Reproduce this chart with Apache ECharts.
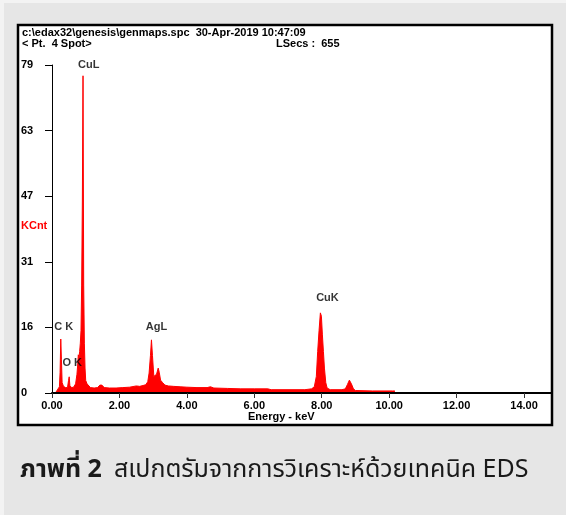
<!DOCTYPE html>
<html><head><meta charset="utf-8">
<script src="https://cdn.jsdelivr.net/npm/echarts@6/dist/echarts.min.js"></script>
<style>html,body{margin:0;padding:0;background:#f3f3f3;} #c{width:566px;height:515px;}</style>
</head><body><div id="c"></div>
<script>
// Spectrum: energy (keV) and counts (KCnt)
const energyKeV = [0.00,0.10,0.14,0.18,0.22,0.24,0.26,0.28,0.30,0.34,0.40,0.46,0.49,0.51,0.53,0.58,0.64,0.70,0.74,0.76,0.78,0.80,0.82,0.84,0.86,0.88,0.90,0.92,0.94,0.96,0.98,1.00,1.04,1.08,1.14,1.25,1.35,1.42,1.48,1.55,1.70,1.90,2.10,2.30,2.50,2.60,2.70,2.78,2.84,2.88,2.92,2.95,2.98,3.02,3.06,3.10,3.15,3.18,3.22,3.28,3.35,3.45,3.60,3.80,4.00,4.30,4.60,4.70,4.80,5.20,5.60,6.00,6.40,6.50,7.00,7.50,7.70,7.78,7.84,7.88,7.92,7.96,7.99,8.02,8.05,8.08,8.12,8.16,8.25,8.60,8.70,8.76,8.82,8.88,8.94,9.00,9.50,10.10,10.17];
const countsK   = [0,   0,   0.5, 0.9, 1.5, 5,   13.0,8,   2.5, 1.6, 1.3, 1.3, 3,   3.9, 1.8, 1.3, 1.4, 2.2, 4.5, 6.5, 9.2, 8.5, 10,  12,  15,  26,  46,  76.4,26,  12,  6,   3,   2.2, 1.8, 1.3, 1.2, 1.3, 1.9, 1.9, 1.3, 1.2, 1.2, 1.3, 1.4, 1.7, 1.6, 1.8, 2.0, 2.7, 4.8, 9,   12.8,9,   4,   3.8, 4.5, 6,   5,   3.1, 2.5, 1.9, 1.7, 1.6, 1.5, 1.4, 1.3, 1.3, 1.5, 1.2, 1.1, 1.0, 1.0, 1.0, 0.8, 0.8, 0.8, 1.0, 1.5, 4,   10,  15,  19.3,18.5,14,  10,  6,   2.5, 1.2, 0.8, 0.8, 1.0, 2,   3.1, 2.2, 1.0, 0.6, 0.5, 0.5, 0.5];

const xTickValues = [0,2,4,6,8,10,12,14];
const yTickValues = [0,15.8,31.6,47.4,63.2,79];
const yTickLabels = ['0','16','31','47','63','79'];

const peakNames = ['CuL','C K','O K','AgL','CuK'];
const peakLabelEnergy = [1.09,0.35,0.6,3.1,8.17];
const peakLabelCount = [79,15.9,7.2,15.9,22.9];

const headerLine1 = 'c:\\edax32\\genesis\\genmaps.spc  30-Apr-2019 10:47:09';
const headerLine2 = '< Pt.  4 Spot>';
const headerRight = 'LSecs :  655';
const yName = 'KCnt';
const xName = 'Energy - keV';
const captionBold = 'ภาพที่ 2';
const captionText = 'สเปกตรัมจากการวิเคราะห์ด้วยเทคนิค EDS';

const FONT = 'Liberation Sans, Arial, sans-serif';
const CAPFONT = '"Noto Sans Thai", Tahoma, "Noto Sans", sans-serif';
const chart = echarts.init(document.getElementById('c'), null, {renderer:'canvas'});
chart.setOption({
  animation: false,
  backgroundColor: 'transparent',
  graphic: [
    {type:'rect', z:-10, shape:{x:4,y:3,width:566,height:515}, style:{fill:'#e6e6e6'}},
    {type:'rect', z:-5, shape:{x:18,y:25,width:534,height:400}, style:{fill:'#ffffff', stroke:'#000', lineWidth:2.5}},
    {type:'text', left:22, top:27, style:{text:headerLine1, font:'bold 11px '+FONT, fill:'#000'}},
    {type:'text', left:22, top:38, style:{text:headerLine2, font:'bold 11px '+FONT, fill:'#000'}},
    {type:'text', left:276, top:38, style:{text:headerRight, font:'bold 11px '+FONT, fill:'#000'}},
    {type:'text', left:21, top:220, style:{text:yName, font:'bold 11px '+FONT, fill:'#ff0000'}},
    {type:'text', left:248, top:411, style:{text:xName, font:'bold 11px '+FONT, fill:'#000'}},
    {type:'text', left:20, top:459, style:{
      text:'{b|'+captionBold+'}{r|'+captionText+'}',
      rich:{
        b:{font:'bold 25px '+CAPFONT, fill:'#1a1a1a', padding:[0,12,0,0]},
        r:{font:'25px '+CAPFONT, fill:'#1a1a1a'}
      }}}
  ],
  grid: {left:52, right:15, top:65, bottom:122},
  xAxis: {
    type:'value', min:0, max:14.8, z:5,
    axisLine:{show:true, onZero:false, lineStyle:{color:'#000', width:2}},
    axisTick:{show:true, customValues:xTickValues, length:5, lineStyle:{color:'#333', width:1}},
    axisLabel:{customValues:xTickValues, margin:7, color:'#000', fontFamily:FONT, fontWeight:'bold', fontSize:11,
      formatter:v=>v.toFixed(2)},
    splitLine:{show:false}
  },
  yAxis: {
    type:'value', min:0, max:79, offset:2, z:5,
    axisLine:{show:true, lineStyle:{color:'#000', width:1}},
    axisTick:{show:true, customValues:yTickValues, length:7, lineStyle:{color:'#000', width:1}},
    axisLabel:{customValues:yTickValues, margin:29, align:'left', color:'#000', fontFamily:FONT, fontWeight:'bold', fontSize:11,
      formatter:v=>{ let i=yTickValues.findIndex(t=>Math.abs(t-v)<0.01); return i>=0?yTickLabels[i]:''; }},
    splitLine:{show:false}
  },
  series: [
    {type:'line', data: energyKeV.map((e,i)=>[e,countsK[i]]), symbol:'none', sampling:null,
     lineStyle:{color:'#ff0000', width:1}, areaStyle:{color:'#ff0000', opacity:1}, z:2},
    {type:'scatter', symbolSize:0, z:6, silent:true,
     data: peakNames.map((n,i)=>({value:[peakLabelEnergy[i], peakLabelCount[i]], name:n})),
     label:{show:true, position:'inside', formatter:p=>p.name, color:'#000', fontFamily:FONT, fontWeight:'bold', fontSize:11}}
  ]
});
</script></body></html>
